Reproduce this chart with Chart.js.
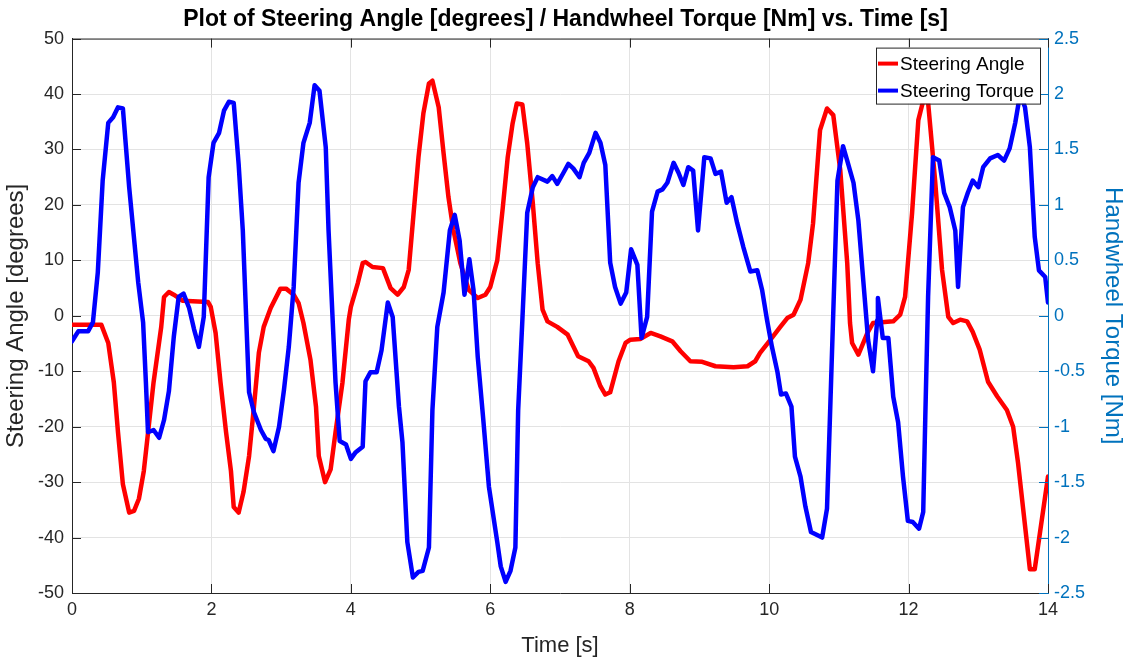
<!DOCTYPE html>
<html>
<head>
<meta charset="utf-8">
<title>Steering Angle / Handwheel Torque</title>
<script src="https://cdn.jsdelivr.net/npm/chart.js"></script>
<style>
  html, body { margin: 0; padding: 0; background: #fff; }
  #wrap { width: 1131px; height: 662px; }
</style>
</head>
<body>
<div id="wrap"><canvas id="chart-line"></canvas></div>
<script>
// values
var angleTime = [0,0.42,0.52,0.60,0.66,0.73,0.82,0.89,0.96,1.03,1.10,1.17,1.28,1.32,1.39,1.46,1.59,1.95,1.99,2.06,
  2.13,2.21,2.28,2.32,2.39,2.46,2.54,2.61,2.68,2.75,2.85,2.99,3.07,3.18,3.25,3.32,3.42,3.50,3.54,3.63,
  3.71,3.78,3.88,3.97,4.00,4.10,4.17,4.21,4.31,4.46,4.57,4.67,4.76,4.83,4.90,4.97,5.04,5.12,5.17,5.26,
  5.33,5.40,5.47,5.57,5.69,5.82,5.93,6.00,6.10,6.18,6.25,6.32,6.38,6.46,6.53,6.61,6.68,6.75,6.82,6.96,
  7.11,7.26,7.41,7.48,7.58,7.65,7.72,7.84,7.94,8.01,8.15,8.30,8.44,8.61,8.73,8.87,9.04,9.23,9.49,9.69,
  9.80,9.87,10.02,10.16,10.26,10.35,10.45,10.56,10.63,10.73,10.83,10.92,11.02,11.12,11.16,11.19,11.28,11.41,11.49,11.78,
  11.88,11.95,12.05,12.14,12.21,12.28,12.38,12.48,12.57,12.64,12.74,12.84,12.92,13.02,13.14,13.27,13.41,13.50,13.57,13.74,
  13.81,14.00];
var angleDeg = [-1.6,-1.6,-4.9,-12,-21,-30.4,-35.5,-35.2,-33,-28,-20,-12,-2,3.4,4.3,3.8,2.7,2.5,1.6,-3.1,
  -12,-21,-28,-34.5,-35.5,-31.8,-25.3,-16.4,-6.7,-2,1.4,4.9,4.9,3.8,2.3,-1.3,-7.9,-16.4,-25.3,-30,
  -27.7,-21,-12,-0.7,1.6,5.9,9.5,9.7,8.8,8.6,5.0,3.8,5.2,8.3,18.5,28.6,36.5,41.9,42.4,37.6,
  29.3,21.4,15.5,9.5,4.7,3.2,3.8,5.2,10,19.6,28.6,34.7,38.3,38.1,31.1,20.3,9.5,1.1,-1,-2,
  -3.4,-7.3,-8.2,-9.4,-12.7,-14.2,-13.8,-8.2,-4.9,-4.3,-4.2,-3.1,-3.7,-4.6,-6.4,-8.2,-8.3,-9.1,-9.3,-9.1,
  -8.2,-6.7,-4.3,-2,-0.4,0.2,2.9,9.5,16.7,33.5,37.4,36.2,26.3,9.5,-1.3,-4.9,-7,-3.1,-1.3,-1,
  0.2,3.4,18.5,35.3,38.8,38.5,24.5,8.3,-0.2,-1.3,-0.7,-1,-2.9,-6.1,-11.9,-14.5,-17,-20,-26.5,-45.7,
  -45.7,-29];

var torqueTime = [0,0.09,0.23,0.30,0.37,0.44,0.52,0.59,0.66,0.73,0.82,0.95,1.02,1.06,1.09,1.17,1.25,1.32,1.39,1.46,
  1.53,1.60,1.68,1.75,1.82,1.89,1.96,2.03,2.11,2.18,2.25,2.32,2.39,2.45,2.54,2.61,2.71,2.78,2.82,2.89,
  2.97,3.04,3.11,3.18,3.25,3.32,3.41,3.48,3.55,3.64,3.68,3.78,3.84,3.93,4.00,4.07,4.17,4.21,4.28,4.37,
  4.44,4.53,4.60,4.69,4.74,4.81,4.89,4.97,5.03,5.12,5.17,5.24,5.33,5.42,5.49,5.56,5.63,5.70,5.76,5.82,
  5.90,5.98,6.10,6.15,6.22,6.29,6.36,6.40,6.46,6.53,6.61,6.68,6.82,6.89,6.96,7.05,7.12,7.19,7.28,7.34,
  7.42,7.51,7.58,7.65,7.72,7.79,7.87,7.95,8.02,8.11,8.17,8.25,8.32,8.40,8.47,8.54,8.63,8.70,8.77,8.84,
  8.91,8.98,9.07,9.16,9.23,9.31,9.39,9.46,9.54,9.63,9.73,9.83,9.90,9.97,10.04,10.12,10.17,10.24,10.32,10.37,
  10.45,10.52,10.60,10.76,10.83,10.88,10.98,11.06,11.12,11.21,11.28,11.35,11.42,11.49,11.55,11.56,11.63,11.71,11.78,11.85,
  11.92,11.99,12.06,12.15,12.21,12.24,12.28,12.35,12.44,12.51,12.59,12.67,12.71,12.78,12.85,12.92,13.00,13.07,13.17,13.28,
  13.37,13.45,13.53,13.60,13.67,13.74,13.81,13.87,13.96,14.00];
var torqueNm = [-0.23,-0.14,-0.14,-0.06,0.39,1.22,1.74,1.79,1.88,1.87,1.16,0.3,-0.06,-0.6,-1.05,-1.03,-1.1,-0.94,-0.68,-0.19,
  0.17,0.2,0.07,-0.12,-0.28,-0.01,1.25,1.56,1.65,1.85,1.93,1.92,1.37,0.77,-0.69,-0.87,-1.03,-1.11,-1.12,-1.22,
  -1.0,-0.67,-0.28,0.26,1.2,1.56,1.74,2.08,2.03,1.52,0.77,-0.6,-1.13,-1.16,-1.29,-1.23,-1.18,-0.59,-0.51,-0.51,
  -0.31,0.12,-0.01,-0.82,-1.14,-2.04,-2.36,-2.31,-2.3,-2.09,-0.85,-0.1,0.21,0.77,0.91,0.68,0.19,0.51,0.23,-0.37,
  -0.94,-1.54,-2.04,-2.26,-2.4,-2.3,-2.09,-0.85,-0.04,0.93,1.16,1.25,1.21,1.26,1.19,1.29,1.37,1.33,1.25,1.38,
  1.47,1.65,1.56,1.36,0.48,0.26,0.11,0.21,0.6,0.46,-0.2,-0.01,0.94,1.12,1.14,1.2,1.38,1.29,1.18,1.34,
  1.31,0.77,1.43,1.42,1.28,1.3,1.02,1.07,0.84,0.62,0.4,0.41,0.23,-0.04,-0.28,-0.51,-0.71,-0.7,-0.82,-1.27,
  -1.45,-1.72,-1.95,-2.0,-1.74,-0.76,1.22,1.53,1.4,1.2,0.86,0.32,-0.22,-0.5,-0.04,0.16,-0.2,-0.2,-0.73,-0.96,
  -1.45,-1.85,-1.86,-1.92,-1.77,-0.91,0.17,1.43,1.4,1.11,0.98,0.77,0.26,0.98,1.11,1.22,1.16,1.34,1.42,1.45,
  1.4,1.51,1.74,2.0,1.88,1.52,0.71,0.41,0.35,0.12];

var seriesLabels = ["Steering Angle", "Steering Torque"];
var xTicks = [0, 14, 2];        // min, max, step
var angleTicks = [-50, 50, 10];
var torqueTicks = [-2.5, 2.5, 0.5];

function toPoints(xs, ys) {
  var pts = [];
  for (var i = 0; i < xs.length; i++) pts.push({x: xs[i], y: ys[i]});
  return pts;
}

var FONT = "'Liberation Sans', Arial, sans-serif";
var AXIS_GRAY = "#262626";
var MATLAB_BLUE = "#0072BD";

// inward ticks, top frame line and the legend box, MATLAB style
var framePlugin = {
  id: 'frame',
  afterDatasetsDraw: function(chart) {
    var c = chart.ctx, a = chart.chartArea, s = chart.scales;
    var len = 9;
    c.save();
    c.lineWidth = 1;
    c.strokeStyle = AXIS_GRAY;
    c.beginPath();
    c.moveTo(a.left, a.top + 0.5); c.lineTo(a.right, a.top + 0.5);
    s.x.ticks.forEach(function(t) {
      var px = Math.round(s.x.getPixelForValue(t.value)) + 0.5;
      c.moveTo(px, a.bottom); c.lineTo(px, a.bottom - len);
      c.moveTo(px, a.top); c.lineTo(px, a.top + len);
    });
    s.y.ticks.forEach(function(t) {
      var py = Math.round(s.y.getPixelForValue(t.value)) + 0.5;
      c.moveTo(a.left, py); c.lineTo(a.left + len, py);
    });
    c.stroke();
    c.strokeStyle = MATLAB_BLUE;
    c.beginPath();
    s.y1.ticks.forEach(function(t) {
      var py = Math.round(s.y1.getPixelForValue(t.value)) + 0.5;
      c.moveTo(a.right, py); c.lineTo(a.right - len, py);
    });
    c.stroke();

    // legend
    var bw = 164, bh = 56;
    var bx = a.right - 8 - bw, by = a.top + 9;
    c.fillStyle = '#fff';
    c.fillRect(bx, by, bw, bh);
    c.strokeStyle = AXIS_GRAY;
    c.strokeRect(bx + 0.5, by + 0.5, bw, bh);
    c.font = "19px " + FONT;
    c.textBaseline = 'middle';
    chart.data.datasets.forEach(function(ds, i) {
      var ly = by + 16 + i * 27;
      c.strokeStyle = ds.borderColor;
      c.lineWidth = 4;
      c.beginPath(); c.moveTo(bx + 2, ly); c.lineTo(bx + 22, ly); c.stroke();
      c.fillStyle = '#000';
      c.fillText(ds.label, bx + 24, ly + 1);
    });
    c.restore();
  }
};

var ctx = document.getElementById('chart-line');
var myLineChart = new Chart(ctx, {
  type: 'line',
  data: {
    datasets: [{
      label: seriesLabels[0],
      data: toPoints(angleTime, angleDeg),
      yAxisID: 'y',
      borderColor: '#FF0000',
      order: 2
    }, {
      label: seriesLabels[1],
      data: toPoints(torqueTime, torqueNm),
      yAxisID: 'y1',
      borderColor: '#0000FF',
      order: 1
    }]
  },
  options: {
    responsive: true,
    maintainAspectRatio: false,
    animation: false,
    layout: { padding: { top: 0, left: 0, right: 0, bottom: 0 } },
    elements: {
      line: { borderWidth: 4.5, tension: 0, borderJoinStyle: 'round', borderCapStyle: 'round' },
      point: { radius: 0 }
    },
    plugins: {
      legend: { display: false },
      tooltip: { enabled: false },
      title: {
        display: true,
        text: 'Plot of Steering Angle [degrees] / Handwheel Torque [Nm] vs. Time [s]',
        color: '#000',
        font: { family: FONT, size: 23, weight: 'bold' },
        padding: { top: 6, bottom: 5 }
      }
    },
    scales: {
      x: {
        type: 'linear',
        min: xTicks[0], max: xTicks[1],
        ticks: { stepSize: xTicks[2], color: AXIS_GRAY, font: { family: FONT, size: 18 }, padding: 6 },
        grid: { color: '#e3e3e3', drawTicks: false },
        border: { color: AXIS_GRAY },
        title: { display: true, text: 'Time [s]', color: AXIS_GRAY, font: { family: FONT, size: 22 }, padding: { top: 4, bottom: 3 } },
        afterFit: function(s) { s.height = 69; }
      },
      y: {
        position: 'left',
        min: angleTicks[0], max: angleTicks[1],
        ticks: { stepSize: angleTicks[2], color: AXIS_GRAY, font: { family: FONT, size: 18 }, padding: 8 },
        grid: { color: '#e3e3e3', drawTicks: false },
        border: { color: AXIS_GRAY },
        title: { display: true, text: 'Steering Angle [degrees]', color: AXIS_GRAY, font: { family: FONT, size: 24 }, padding: { top: 2, bottom: 4 } },
        afterFit: function(s) { s.width = 72; }
      },
      y1: {
        position: 'right',
        min: torqueTicks[0], max: torqueTicks[1],
        ticks: {
          stepSize: torqueTicks[2], color: MATLAB_BLUE, font: { family: FONT, size: 18 }, padding: 6,
          callback: function(v) { return String(v); }
        },
        grid: { drawOnChartArea: false, drawTicks: false },
        border: { color: MATLAB_BLUE },
        title: { display: true, text: 'Handwheel Torque [Nm]', color: MATLAB_BLUE, font: { family: FONT, size: 24 }, padding: { top: 4, bottom: 2 } },
        afterFit: function(s) { s.width = 83; }
      }
    }
  },
  plugins: [framePlugin]
});
</script>
</body>
</html>
